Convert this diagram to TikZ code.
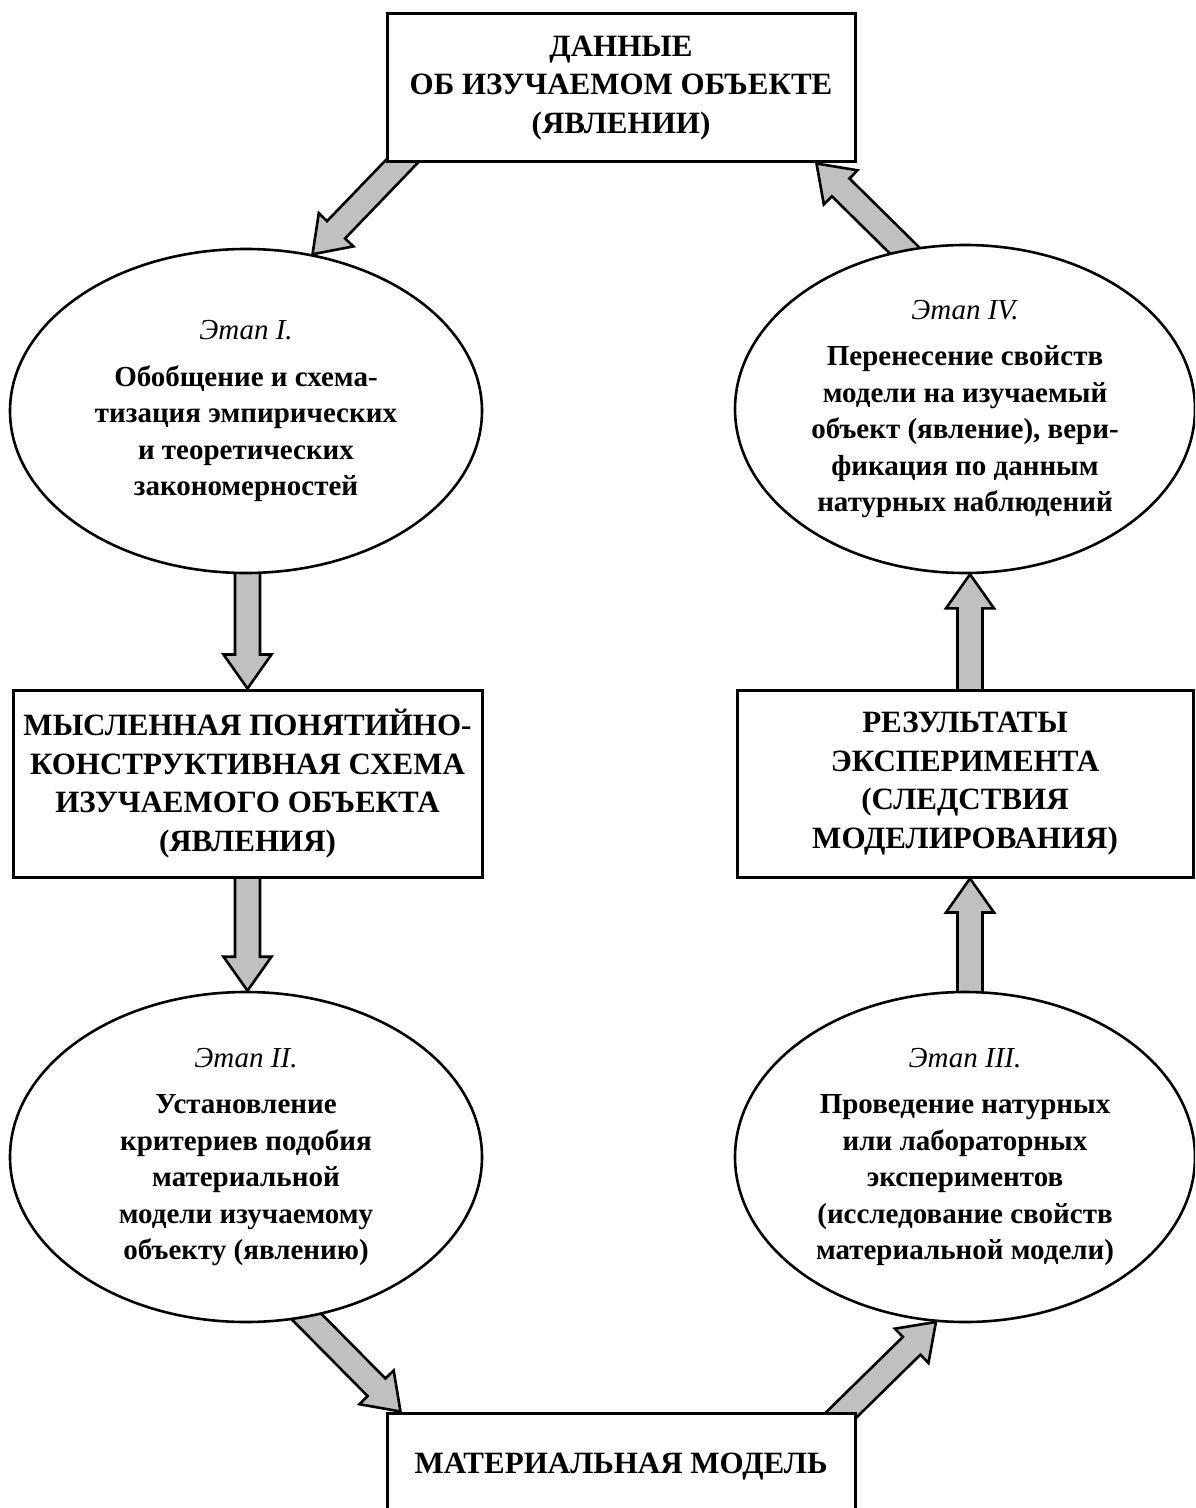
\documentclass[tikz,border=0pt]{standalone}
\usepackage{fontspec}
\setmainfont{Liberation Serif}
\usetikzlibrary{shapes.geometric,calc,backgrounds}
\definecolor{arrgray}{RGB}{192,192,192}
\tikzset{
  boxnode/.style={draw, line width=1.5pt, fill=white, inner sep=0pt, align=center,
    font=\fontsize{15.5}{19.25}\selectfont\bfseries},
  ellnode/.style={ellipse, draw, line width=1.3pt, fill=white, inner sep=0pt, align=center,
    font=\fontsize{14.5}{18.25}\selectfont\bfseries},
  fatarrow/.style={draw, line width=1.3pt, fill=arrgray, line join=miter},
}
\newcommand\stagelabel[1]{{\mdseries\itshape #1}\\[5pt]}
\newcommand\fatarr[2]{%
  \coordinate (fa-c) at ($(#2)!17pt!(#1)$);
  \draw[fatarrow] ($(#1)!6.25pt!90:(#2)$) -- ($(fa-c)!6.25pt!-90:(#1)$)
    -- ($(fa-c)!12pt!-90:(#1)$) -- (#2) -- ($(fa-c)!12pt!90:(#1)$)
    -- ($(fa-c)!6.25pt!90:(#1)$) -- ($(#1)!6.25pt!-90:(#2)$) -- cycle;
}
\begin{document}
\begin{tikzpicture}[x=0.5pt,y=-0.5pt]
\useasboundingbox (0,0) rectangle (1195,1508);
\clip (0,0) rectangle (1195,1508);
% boxes
\node[boxnode, minimum width=234pt, minimum height=74pt] (top) at (621,88)
  {ДАННЫЕ\\ОБ ИЗУЧАЕМОМ ОБЪЕКТЕ\\(ЯВЛЕНИИ)};
\node[boxnode, minimum width=234.5pt, minimum height=93.5pt] (b1) at (247.5,783.5)
  {МЫСЛЕННАЯ ПОНЯТИЙНО-\\КОНСТРУКТИВНАЯ СХЕМА\\ИЗУЧАЕМОГО ОБЪЕКТА\\(ЯВЛЕНИЯ)};
\node[boxnode, minimum width=228pt, minimum height=93.5pt] (b2) at (965,783.5)
  {РЕЗУЛЬТАТЫ\\ЭКСПЕРИМЕНТА\\(СЛЕДСТВИЯ\\МОДЕЛИРОВАНИЯ)};
\node[boxnode, minimum width=234pt, minimum height=54pt] (bot) at (621,1467)
  {МАТЕРИАЛЬНАЯ МОДЕЛЬ};
% ellipses
\node[ellnode, minimum width=236pt, minimum height=162pt] (e1) at (246,411)
  {\stagelabel{Этап I.}Обобщение и схема-\\тизация эмпирических\\и теоретических\\закономерностей};
\node[ellnode, minimum width=230pt, minimum height=164pt] (e4) at (965,409)
  {\stagelabel{Этап IV.}Перенесение свойств\\модели на изучаемый\\объект (явление), вери-\\фикация по данным\\натурных наблюдений};
\node[ellnode, minimum width=236pt, minimum height=165pt] (e2) at (246,1157)
  {\stagelabel{Этап II.}Установление\\критериев подобия\\материальной\\модели изучаемому\\объекту (явлению)};
\node[ellnode, minimum width=230pt, minimum height=165pt] (e3) at (965,1157)
  {\stagelabel{Этап III.}Проведение натурных\\или лабораторных\\экспериментов\\(исследование свойств\\материальной модели)};
% connector end points
\coordinate (a1s) at ($(top.south west)+(23,-9)$);
\coordinate (a1e) at (e1.67);
\coordinate (a2s) at ($(e1.south)+(1.5,-10)$);
\coordinate (a2e) at (b1.north);
\coordinate (a3s) at ($(b1.south)+(0,-6)$);
\coordinate (a3e) at ($(e2.north)+(1.5,0)$);
\coordinate (a4s) at ($(e2.-69)+(-8,-8)$);
\coordinate (a4e) at ($(bot.north west)+(15,0)$);
\coordinate (a5s) at ($(bot.north east)+(-22,10)$);
\coordinate (a5e) at (e3.-100);
\coordinate (a7s) at ($(e3.north)+(5,10)$);
\coordinate (a7e) at ($(b2.south)+(5,0)$);
\coordinate (a8s) at ($(b2.north)+(5,6)$);
\coordinate (a8e) at ($(e4.south)+(5,0)$);
\coordinate (a6s) at ($(e4.111)+(8,8)$);
\coordinate (a6e) at ($(top.south east)+(-40,0)$);
\begin{pgfonlayer}{background}
\fatarr{a1s}{a1e}
\fatarr{a2s}{a2e}
\fatarr{a3s}{a3e}
\fatarr{a4s}{a4e}
\fatarr{a5s}{a5e}
\fatarr{a7s}{a7e}
\fatarr{a8s}{a8e}
\fatarr{a6s}{a6e}
\end{pgfonlayer}
\end{tikzpicture}
\end{document}
